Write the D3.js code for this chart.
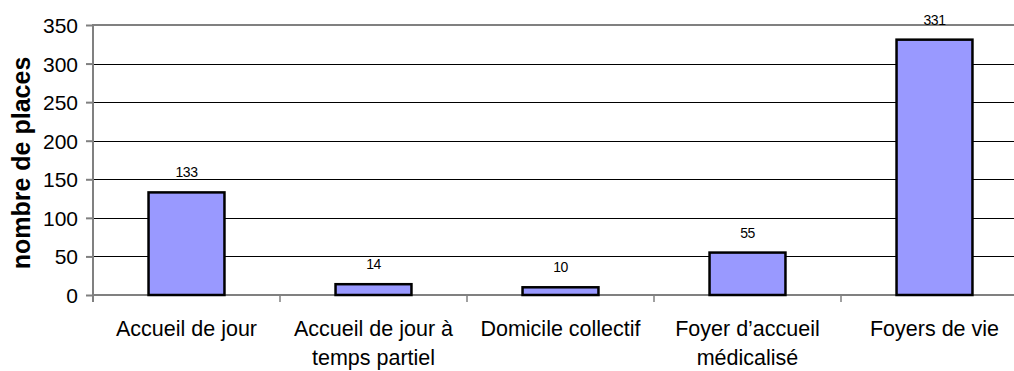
<!DOCTYPE html>
<html>
<head>
<meta charset="utf-8">
<script src="https://cdn.jsdelivr.net/npm/d3@7"></script>
<style>
  html, body { margin: 0; padding: 0; background: #fff; }
  svg { display: block; overflow: hidden; }
  text { font-family: "Liberation Sans", Arial, sans-serif; fill: #000; }
</style>
</head>
<body>
<script>
// Number of places per type of facility
const categories = [
  ["Accueil de jour"],
  ["Accueil de jour à", "temps partiel"],
  ["Domicile collectif"],
  ["Foyer d’accueil", "médicalisé"],
  ["Foyers de vie"]
];
const places = [133, 14, 10, 55, 331];
const yTicks = [0, 50, 100, 150, 200, 250, 300, 350];
const yTitle = "nombre de places";

const W = 1014, H = 371;
const plotLeft = 93, plotTop = 25, plotBottom = 295, plotW = 935;

const svg = d3.select("body").append("svg")
  .attr("width", W).attr("height", H);

const x = d3.scaleBand()
  .domain(d3.range(categories.length))
  .range([plotLeft, plotLeft + plotW])
  .paddingInner(0.594)
  .paddingOuter(0.297);

const bandStep = plotW / categories.length;

const y = d3.scaleLinear().domain([0, 350]).range([plotBottom, plotTop]);

// horizontal gridlines
svg.append("g").selectAll("line")
  .data(yTicks.filter(d => d > 0 && d < 350))
  .join("line")
  .attr("x1", plotLeft).attr("x2", plotLeft + plotW)
  .attr("y1", d => Math.round(y(d)) + 0.5).attr("y2", d => Math.round(y(d)) + 0.5)
  .attr("stroke", "#000").attr("stroke-width", 1);

// top border of the plot
svg.append("line")
  .attr("x1", plotLeft).attr("x2", plotLeft + plotW)
  .attr("y1", y(350)).attr("y2", y(350))
  .attr("stroke", "#808080").attr("stroke-width", 2);

// y axis
const yAxis = svg.append("g")
  .attr("transform", `translate(${plotLeft},0)`)
  .call(d3.axisLeft(y).tickValues(yTicks).tickSize(7).tickPadding(8));
yAxis.select(".domain").remove();
yAxis.selectAll(".tick line").attr("stroke", "#808080").attr("stroke-width", 2);
yAxis.selectAll(".tick text")
  .attr("font-size", 21)
  .attr("font-family", "Liberation Sans, Arial, sans-serif")
  .attr("fill", "#000")
  .attr("dy", "0.36em");
svg.append("line")
  .attr("x1", plotLeft).attr("x2", plotLeft)
  .attr("y1", plotTop - 1).attr("y2", plotBottom + 7)
  .attr("stroke", "#808080").attr("stroke-width", 2);

// x axis baseline and category separators
svg.append("line")
  .attr("x1", plotLeft).attr("x2", plotLeft + plotW)
  .attr("y1", plotBottom).attr("y2", plotBottom)
  .attr("stroke", "#808080").attr("stroke-width", 2);
svg.append("g").selectAll("line")
  .data(d3.range(1, categories.length + 1))
  .join("line")
  .attr("x1", i => plotLeft + i * bandStep).attr("x2", i => plotLeft + i * bandStep)
  .attr("y1", plotBottom).attr("y2", plotBottom + 7)
  .attr("stroke", "#808080").attr("stroke-width", 1.5);

// bars
svg.append("g").selectAll("rect")
  .data(places)
  .join("rect")
  .attr("x", (d, i) => x(i))
  .attr("y", d => y(d))
  .attr("width", x.bandwidth())
  .attr("height", d => y(0) - y(d))
  .attr("fill", "#9999FF")
  .attr("stroke", "#000")
  .attr("stroke-width", 2.5);

// value labels
svg.append("g").selectAll("text")
  .data(places)
  .join("text")
  .attr("x", (d, i) => x(i) + x.bandwidth() / 2)
  .attr("y", d => y(d) - 15)
  .attr("text-anchor", "middle")
  .attr("font-size", 14)
  .attr("letter-spacing", -0.5)
  .text(d => d);

// category labels
const cat = svg.append("g").selectAll("text")
  .data(categories)
  .join("text")
  .attr("x", (d, i) => x(i) + x.bandwidth() / 2)
  .attr("y", 336)
  .attr("text-anchor", "middle")
  .attr("font-size", 21.5);
cat.each(function(lines) {
  const t = d3.select(this);
  const cx = t.attr("x");
  lines.forEach((ln, k) => {
    t.append("tspan").attr("x", cx).attr("dy", k === 0 ? 0 : 29).text(ln);
  });
});

// y axis title
svg.append("text")
  .attr("transform", `translate(30,${(plotTop + plotBottom) / 2 + 3}) rotate(-90)`)
  .attr("text-anchor", "middle")
  .attr("font-size", 25)
  .attr("font-weight", "bold")
  .text(yTitle);
</script>
</body>
</html>
